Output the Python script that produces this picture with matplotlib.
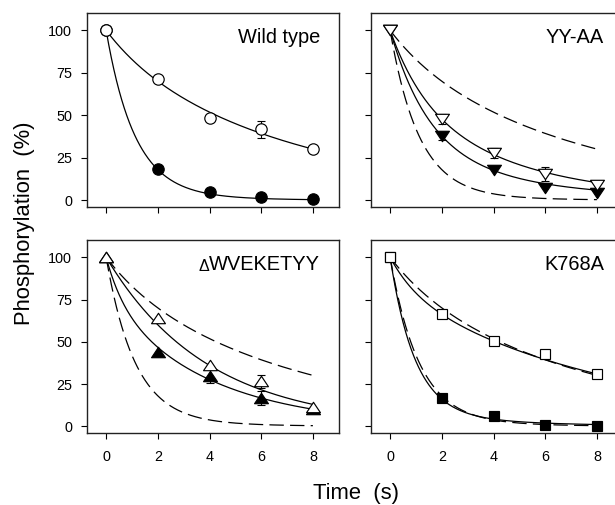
import numpy as np
import matplotlib
matplotlib.use("Agg")
import matplotlib.pyplot as plt
from matplotlib.path import Path

plt.rcParams['font.family'] = ['Liberation Sans', 'DejaVu Sans']

# ---------------- data ----------------
time_s = [0, 2, 4, 6, 8]
x_ticks = [0, 2, 4, 6, 8]
y_ticks = [0, 25, 50, 75, 100]

panel_titles = ["Wild type", "YY-AA", "WVEKETYY", "K768A"]

wt_open = [100, 71.5, 48.3, 41.8, 30]
wt_open_err = [0, 0, 0, 5, 0]
wt_filled = [100, 18.3, 4.7, 2.0, 0.6]
wt_filled_err = [0, 0, 0, 0, 0]

yy_open = [100, 47.7, 27.7, 15.5, 8.8]
yy_open_err = [0, 3, 3, 4, 0]
yy_filled = [100, 37.9, 17.9, 7.5, 4.5]
yy_filled_err = [0, 2.5, 0, 0, 0]

dw_open = [100, 63.8, 36.3, 26.6, 11.2]
dw_open_err = [0, 0, 0, 4, 0]
dw_filled = [100, 44.1, 30.0, 16.7, 10.5]
dw_filled_err = [0, 0, 4.5, 4, 0]

k_open = [100, 66.3, 50.6, 42.8, 31]
k_open_err = [0, 0, 0, 0, 0]
k_filled = [100, 16.5, 6.3, 1.0, 0.4]
k_filled_err = [0, 0, 0, 0, 0]

# fitted curves: two-phase exponential decay (a1, k1, a2, k2)
wt_open_fit = [15, 0.6, 85, 0.13]
wt_filled_fit = [96, 0.9, 4, 0.3]
yy_open_fit = [40, 0.74, 60, 0.22]
yy_filled_fit = [72, 0.664, 28, 0.2]
dw_open_fit = [0, 1.0, 100, 0.255]
dw_filled_fit = [25, 1.5, 75, 0.25]
k_open_fit = [19, 1.0, 81, 0.12]
k_filled_fit = [92, 1.05, 8, 0.25]


def decay(p, t):
    return p[0] * np.exp(-p[1] * t) + p[2] * np.exp(-p[3] * t)


# ---------------- figure ----------------
W, H = 615, 505
fig = plt.figure(figsize=(W / 100, H / 100), dpi=100)


def axes_px(x0, y0, x1, y1):
    return fig.add_axes([x0 / W, 1 - y1 / H, (x1 - x0) / W, (y1 - y0) / H])


axs = [axes_px(87, 13, 339, 207), axes_px(371, 13, 623, 207),
       axes_px(87, 240, 339, 433), axes_px(371, 240, 623, 433)]

tri_up = Path([(-1, -0.75), (1, -0.75), (0, 0.75), (-1, -0.75)],
              [Path.MOVETO, Path.LINETO, Path.LINETO, Path.CLOSEPOLY])
tri_dn = Path([(-1, 0.75), (1, 0.75), (0, -0.75), (-1, 0.75)],
              [Path.MOVETO, Path.LINETO, Path.LINETO, Path.CLOSEPOLY])

panels = [
    dict(open=wt_open, open_err=wt_open_err, filled=wt_filled, filled_err=wt_filled_err,
         ofit=wt_open_fit, ffit=wt_filled_fit, marker='o', ms=8.2, dashed=False),
    dict(open=yy_open, open_err=yy_open_err, filled=yy_filled, filled_err=yy_filled_err,
         ofit=yy_open_fit, ffit=yy_filled_fit, marker=tri_dn, ms=10.0, dashed=True),
    dict(open=dw_open, open_err=dw_open_err, filled=dw_filled, filled_err=dw_filled_err,
         ofit=dw_open_fit, ffit=dw_filled_fit, marker=tri_up, ms=10.0, dashed=True),
    dict(open=k_open, open_err=k_open_err, filled=k_filled, filled_err=k_filled_err,
         ofit=k_open_fit, ffit=k_filled_fit, marker='s', ms=7.8, dashed=True),
]

tt = np.linspace(0, 8, 400)
lw_curve = 0.9

for i, (ax, p) in enumerate(zip(axs, panels)):
    if p['dashed']:
        ax.plot(tt, decay(wt_open_fit, tt), color='black', lw=lw_curve,
                ls=(0, (11.5, 5)), zorder=2)
        ax.plot(tt, decay(wt_filled_fit, tt), color='black', lw=lw_curve,
                ls=(0, (11.5, 5)), zorder=2)
    ax.plot(tt, decay(p['ofit'], tt), color='black', lw=lw_curve, zorder=2)
    ax.plot(tt, decay(p['ffit'], tt), color='black', lw=lw_curve, zorder=2)

    for vals, errs, face, z in [(p['filled'], p['filled_err'], 'black', 4),
                                (p['open'], p['open_err'], 'white', 5)]:
        t_e = [t for t, e in zip(time_s, errs) if e > 0]
        v_e = [v for v, e in zip(vals, errs) if e > 0]
        e_e = [e for e in errs if e > 0]
        if t_e:
            ax.errorbar(t_e, v_e, yerr=e_e, fmt='none', ecolor='black',
                        elinewidth=0.8, capsize=2.9, capthick=0.8, zorder=3)
        ax.plot(time_s, vals, ls='none', marker=p['marker'], ms=p['ms'],
                mfc=face, mec='black', mew=0.85, zorder=z)

    ax.set_xlim(-0.74, 9.01)
    ax.set_ylim(-3.9, 110.2)
    ax.set_xticks(x_ticks)
    ax.set_yticks(y_ticks)
    ax.tick_params(direction='out', length=4.3, width=0.8, labelsize=10.4,
                   colors='black')
    ax.tick_params(axis='x', pad=8)
    ax.tick_params(axis='y', pad=6.5)
    if i in (0, 1):
        ax.set_xticklabels([])
    if i in (1, 3):
        ax.set_yticklabels([])
    for s in ax.spines.values():
        s.set_linewidth(1.0)
        s.set_color('#222222')

    # panel title
    txt = ax.annotate(panel_titles[i], xy=(1, 1), xycoords='axes fraction',
                      xytext=(-19 * 0.72, -30 * 0.72), textcoords='offset points',
                      ha='right', va='baseline', fontsize=14.4)
    if i == 2:
        ax.annotate("\u0394", xy=(0, 0), xycoords=txt, ha='right', va='bottom',
                    fontsize=11.5)

fig.text(25 / W, 1 - 223 / H, "Phosphorylation  (%)", rotation=90,
         ha='center', va='center', fontsize=15.8)
fig.text(356 / W, 6 / H, "Time  (s)", ha='center', va='baseline', fontsize=15.8)

fig.savefig("out.png", dpi=100)
